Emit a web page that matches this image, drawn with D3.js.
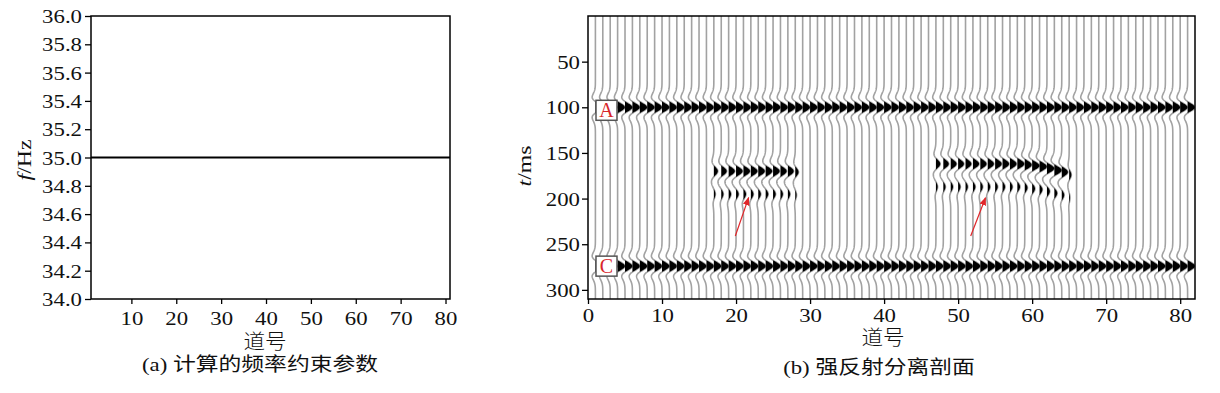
<!DOCTYPE html>
<html>
<head>
<meta charset="utf-8">
<script src="https://cdn.jsdelivr.net/npm/d3@7"></script>
<style>
  body { margin: 0; background: #fff; }
  text { font-family: "Liberation Serif", "Times New Roman", "Noto Sans CJK SC", serif; }
</style>
</head>
<body>
<script>
// ---- panel (a): frequency constraint ----
const freqTraces = [1, 81];
const freqValues = [35.0, 35.0];
const freqYTicks = [34.0, 34.2, 34.4, 34.6, 34.8, 35.0, 35.2, 35.4, 35.6, 35.8, 36.0];
const freqXTicks = [10, 20, 30, 40, 50, 60, 70, 80];

// ---- panel (b): separated section ----
const traceCount = 81;
const wavelet_hz = 35;
// continuous reflectors A and C (all traces)
const layerNames = ["A", "C"];
const layerTimes = [100, 274];
const layerAmps = [1.0, 1.0];
// weak event 1
const ev1Traces = [17, 18, 19, 20, 21, 22, 23, 24, 25, 26, 27, 28];
const ev1Times  = [170, 170, 170, 170, 170, 170, 170, 170, 170, 170, 170, 171];
const ev1Amps   = [0.55, 0.75, 0.85, 0.9, 0.9, 0.9, 0.9, 0.9, 0.9, 0.85, 0.8, 0.45];
// weak event 2
const ev2Traces = [47, 48, 49, 50, 51, 52, 53, 54, 55, 56, 57, 58, 59, 60, 61, 62, 63, 64, 65];
const ev2Times  = [162, 162, 162, 162, 162, 162, 162, 162, 162, 162, 162, 162, 163, 164, 165, 167, 169, 171, 174];
const ev2Amps   = [0.6, 0.75, 0.8, 0.8, 0.8, 0.85, 0.85, 0.85, 0.9, 0.9, 0.9, 0.95, 0.95, 1.0, 1.0, 1.0, 1.0, 0.85, 0.3];
const secondLobeDelay = 25, secondLobeRatio = 0.4;
const tXTicks = [0, 10, 20, 30, 40, 50, 60, 70, 80];
const tYTicks = [50, 100, 150, 200, 250, 300];
// arrows: [trace, time] start -> end
const arrows = [[[19.9, 241], [21.7, 199]], [[51.7, 241], [53.7, 199]]];

const svg = d3.select("body").append("svg")
  .attr("width", 1220).attr("height", 393)
  .attr("xmlns", "http://www.w3.org/2000/svg");
svg.append("rect").attr("width", "100%").attr("height", "100%").attr("fill", "white");

const fs = 19;       // serif size
const sx = 1.2;      // the original figure is stretched sideways

function styleTicks(g, dx, dy) {
  g.select(".domain").remove();
  g.selectAll("line").attr("stroke-width", 1.3);
  g.selectAll("text").attr("font-size", fs).attr("fill", "#111")
    .attr("font-family", "Liberation Serif")
    .attr("x", null).attr("y", null).attr("dy", null)
    .attr("transform", `translate(${dx},${dy}) scale(${sx},1)`);
}
function label(g, x, y, txt, opts = {}) {
  return g.append("text")
    .attr("transform", `translate(${x},${y}) scale(${opts.s || sx},1)`)
    .attr("text-anchor", "middle").attr("font-size", opts.size || fs).attr("fill", "#111")
    .attr("font-family", opts.family || null).attr("font-weight", opts.weight || null)
    .text(txt);
}

// ================= panel (a) =================
const xa = d3.scaleLinear().domain([1, 81]).range([91, 450]);
const ya = d3.scaleLinear().domain([34, 36]).range([299, 16]);

const ga = svg.append("g");
ga.append("path")
  .datum(freqTraces.map((t, i) => [t, freqValues[i]]))
  .attr("fill", "none").attr("stroke", "#000").attr("stroke-width", 2)
  .attr("d", d3.line(d => xa(d[0]), d => ya(d[1])));

ga.append("rect")
  .attr("x", 91).attr("y", 16).attr("width", 450 - 91).attr("height", 299 - 16)
  .attr("fill", "none").attr("stroke", "#000").attr("stroke-width", 1.5);

ga.append("g").attr("transform", "translate(91,0)")
  .call(d3.axisLeft(ya).tickValues(freqYTicks).tickFormat(d3.format(".1f")).tickSize(6).tickSizeOuter(0))
  .call(g => styleTicks(g, -9, 6.5));

ga.append("g").attr("transform", "translate(0,299)")
  .call(d3.axisBottom(xa).tickValues(freqXTicks).tickSize(5).tickSizeOuter(0))
  .call(g => styleTicks(g, 0, 26));

const ylabA = ga.append("text")
  .attr("transform", `translate(31,160) rotate(-90) scale(${sx + 0.05},1)`)
  .attr("text-anchor", "middle").attr("font-size", fs).attr("fill", "#111");
ylabA.append("tspan").attr("font-style", "italic").text("f");
ylabA.append("tspan").text("/Hz");

label(ga, 265, 349, "道号", { family: "Noto Sans CJK SC", weight: 300, size: 20, s: 1.08 });
label(ga, 260, 371, "(a) 计算的频率约束参数", {});

// ================= panel (b) =================
const L = 588, R = 1195, T = 16, B = 299;
const xb = d3.scaleLinear().domain([0, 82]).range([L, R]);
const yb = d3.scaleLinear().domain([0, 310]).range([T, B]);
const gain = (xb(1) - xb(0)) * 0.98;

function ricker(dtMs) {
  const a = Math.PI * wavelet_hz * dtMs / 1000;
  return (1 - 2 * a * a) * Math.exp(-a * a);
}

// reflectivity list per trace
const spikes = d3.range(1, traceCount + 1).map(() => []);
spikes.forEach(s => layerTimes.forEach((t, i) => s.push([t, layerAmps[i]])));
function addEvent(trs, tms, amps) {
  trs.forEach((tr, i) => {
    spikes[tr - 1].push([tms[i], amps[i]]);
    spikes[tr - 1].push([tms[i] + secondLobeDelay, amps[i] * secondLobeRatio]);
  });
}
addEvent(ev1Traces, ev1Times, ev1Amps);
addEvent(ev2Traces, ev2Times, ev2Amps);

const times = d3.range(0, 310.01, 0.5);
svg.append("clipPath").attr("id", "clipb")
  .append("rect").attr("x", L).attr("y", T).attr("width", R - L).attr("height", B - T);
const gb = svg.append("g");
const wig = gb.append("g").attr("clip-path", "url(#clipb)");

spikes.forEach((s, i) => {
  const tr = i + 1;
  const x0 = xb(tr);
  const samples = times.map(t => [t, d3.sum(s, e => e[1] * ricker(t - e[0]))]);
  wig.append("path").datum(samples)
    .attr("fill", "none").attr("stroke", "#a2a2a2").attr("stroke-width", 1.6)
    .attr("d", d3.line(d => x0 + d[1] * gain, d => yb(d[0])));
  wig.append("path").datum(samples)
    .attr("fill", "#000").attr("stroke", "none")
    .attr("d", d3.area().y(d => yb(d[0])).x0(x0).x1(d => x0 + Math.max(0, d[1]) * gain));
});

gb.append("rect")
  .attr("x", L).attr("y", T).attr("width", R - L).attr("height", B - T)
  .attr("fill", "none").attr("stroke", "#000").attr("stroke-width", 1.5);

gb.append("g").attr("transform", `translate(${L},0)`)
  .call(d3.axisLeft(yb).tickValues(tYTicks).tickSize(6).tickSizeOuter(0))
  .call(g => styleTicks(g, -8, 6.5));

gb.append("g").attr("transform", `translate(0,${B})`)
  .call(d3.axisBottom(xb).tickValues(tXTicks).tickSize(5).tickSizeOuter(0))
  .call(g => styleTicks(g, 0, 23));

const ylabB = gb.append("text")
  .attr("transform", `translate(531,166) rotate(-90) scale(${sx + 0.05},1)`)
  .attr("text-anchor", "middle").attr("font-size", fs).attr("fill", "#111");
ylabB.append("tspan").attr("font-style", "italic").text("t");
ylabB.append("tspan").text("/ms");

label(gb, 883, 345, "道号", { family: "Noto Sans CJK SC", weight: 300, size: 20, s: 1.08 });
label(gb, 879, 374, "(b) 强反射分离剖面", {});

// layer label boxes
layerNames.forEach((name, i) => {
  const cy = yb(layerTimes[i]) + (i === 0 ? 3 : 0);
  gb.append("rect").attr("x", 596).attr("y", cy - 10).attr("width", 21).attr("height", 20)
    .attr("fill", "#fff").attr("stroke", "#555").attr("stroke-width", 1.5);
  gb.append("text").attr("x", 606.5).attr("y", cy + 7)
    .attr("text-anchor", "middle").attr("font-size", 20).attr("fill", "#d8262a").text(name);
});

// arrows
svg.append("defs").append("marker").attr("id", "ah")
  .attr("viewBox", "0 0 10 10").attr("refX", 9).attr("refY", 5)
  .attr("markerWidth", 7).attr("markerHeight", 7).attr("orient", "auto")
  .append("path").attr("d", "M0,1 L10,5 L0,9 Z").attr("fill", "#e0262a");
arrows.forEach(a => {
  gb.append("line")
    .attr("x1", xb(a[0][0])).attr("y1", yb(a[0][1]))
    .attr("x2", xb(a[1][0])).attr("y2", yb(a[1][1]))
    .attr("stroke", "#e0262a").attr("stroke-width", 1.2)
    .attr("marker-end", "url(#ah)");
});
</script>
</body>
</html>
